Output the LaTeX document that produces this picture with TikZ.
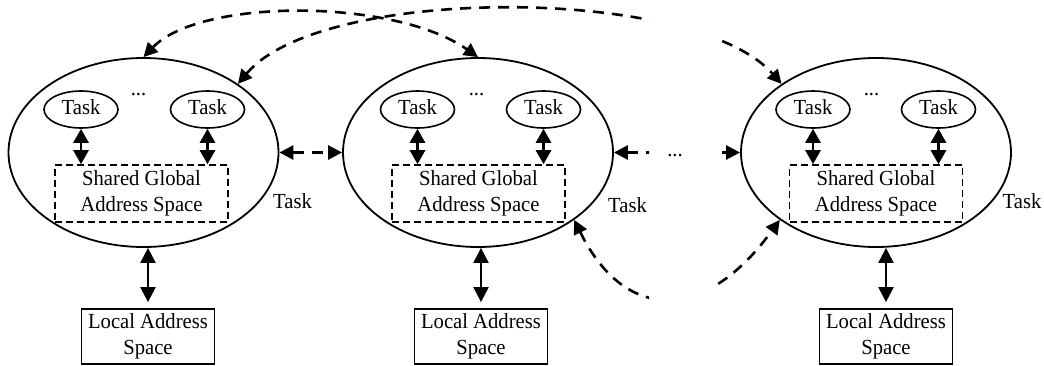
\documentclass[tikz,border=0pt]{standalone}
\usepackage{fontspec}
\setmainfont{Liberation Serif}[FakeStretch=0.96]
\usetikzlibrary{shapes.geometric,arrows.meta}

\begin{document}
\begin{tikzpicture}[x=1pt,y=-1pt,
  font=\fontsize{21.5}{26}\selectfont,
  cluster/.style={draw, ellipse, line width=1.8pt, minimum width=270pt,
    minimum height=189pt, inner sep=0pt},
  task/.style={draw, ellipse, line width=1.6pt, minimum width=74pt,
    minimum height=37pt, inner sep=0pt, text height=14pt, text depth=5pt},
  shared/.style={draw, rectangle, line width=1.6pt, dash pattern=on 7pt off 4pt,
    minimum width=173pt, minimum height=57pt, inner sep=0pt, align=center},
  localbox/.style={draw, rectangle, line width=1.8pt, minimum width=133pt,
    minimum height=55pt, inner sep=0pt, align=center},
  lbl/.style={anchor=base, inner sep=0pt},
  dlink/.style={line width=2.6pt, dash pattern=on 11pt off 8pt,
    {Triangle[length=14pt,width=14pt]}-{Triangle[length=14pt,width=14pt]}},
  tasklink/.style={line width=2.8pt,
    {Triangle[length=14pt,width=15pt]}-{Triangle[length=14pt,width=15pt]}},
  memlink/.style={line width=2.2pt, shorten >=6pt,
    {Triangle[length=15pt,width=15pt]}-{Triangle[length=15pt,width=15pt]}},
]
\useasboundingbox (0,0) rectangle (1044,365);

% processing nodes
\node[cluster] (e1) at (143.5,152.5) {};
\node[cluster] (e2) at (478,152.5) {};
\node[cluster] (e3) at (876,152.5) {};

% tasks inside each node
\node[task] (t1a) at (81,109.5) {Task};
\node[task] (t1b) at (207.5,109.5) {Task};
\node[task] (t2a) at (417.5,109.5) {Task};
\node[task] (t2b) at (543.5,109.5) {Task};
\node[task] (t3a) at (813,109.5) {Task};
\node[task] (t3b) at (938.5,109.5) {Task};

\node[lbl] (d1) at (138.5,95) {...};
\node[lbl] (d2) at (476.5,95) {...};
\node[lbl] (d3) at (871.5,95) {...};

% shared global address space of each node
\node[shared] (s1) at (141.5,193.5) {Shared Global\\Address Space};
\node[shared] (s2) at (478.5,193.5) {Shared Global\\Address Space};
\node[shared] (s3) at (876,193.5) {Shared Global\\Address Space};

% task labels beside the nodes
\node[lbl] (x1) at (292.5,208) {Task};
\node[lbl] (x2) at (627.5,212) {Task};
\node[lbl] (x3) at (1022,208) {Task};

% local address spaces
\node[localbox] (l1) at (148,336.5) {Local Address\\Space};
\node[localbox] (l2) at (481,336.5) {Local Address\\Space};
\node[localbox] (l3) at (886,336.5) {Local Address\\Space};

% task <-> shared space
\foreach \t/\s in {t1a/s1, t1b/s1, t2a/s2, t2b/s2, t3a/s3, t3b/s3}
  \draw[tasklink] (\t.south) -- (\t.south |- \s.north);

% node <-> local space
\foreach \e/\l in {e1/l1, e2/l2, e3/l3}
  \draw[memlink] (\l.north |- \e.south) -- (\l.north);

% links between neighbouring nodes
\draw[dlink] (e1.east) -- (e2.west);
\draw[dlink] (e1.north) .. controls (200,-2) and (394,-2) .. (e2.north);

% links that pass over the elided nodes
\begin{scope}
  \clip (-20,-20) rectangle (649,385) (717,-20) rectangle (1064,385);
  \draw[dlink] (e2.east) -- (e3.west);
  \draw[dlink] (e1.36) .. controls (321,-15) and (694,-15) .. (e3.144);
  \draw[dlink] (e2.-35) .. controls (625,323) and (705,323) .. (e3.-145);
\end{scope}
\node[lbl] (dm) at (675,156) {...};
\end{tikzpicture}
\end{document}
